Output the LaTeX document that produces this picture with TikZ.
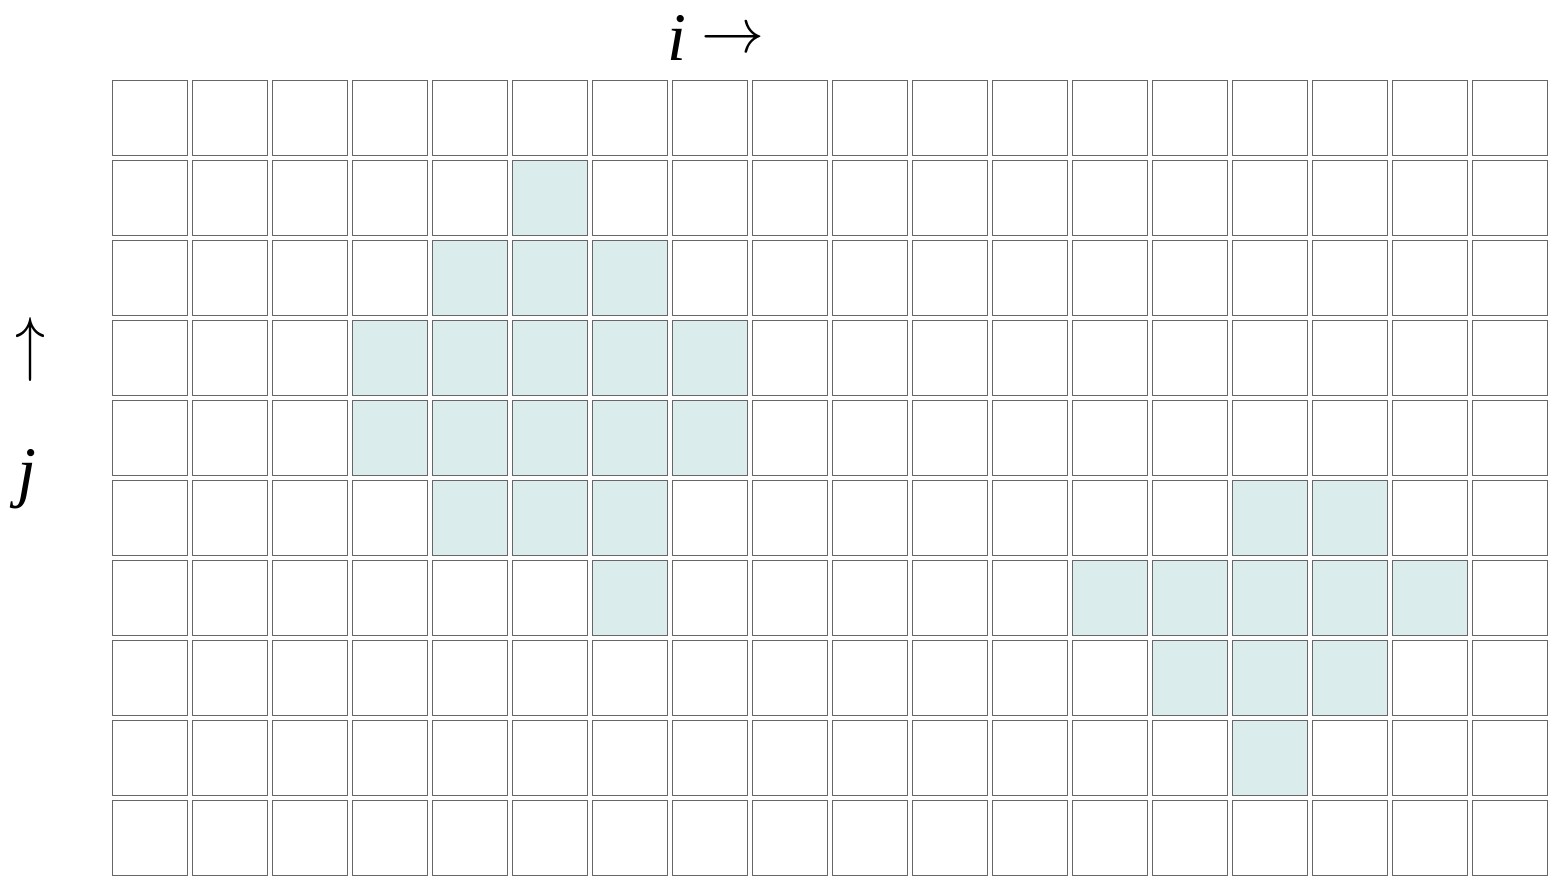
\documentclass[tikz,border=0pt]{standalone}
\usepackage{fontspec}
\usepackage{graphicx}
\setmainfont{Liberation Serif}
\begin{document}
\begin{tikzpicture}[x=1pt,y=-1pt,
  cell/.style={draw=black!60,line width=1.4pt,minimum size=75pt,inner sep=0pt,outer sep=0pt,fill=white},
  shaded/.style={fill=cyanfill},
  lbl/.style={inner sep=0pt,font=\fontsize{68}{76}\selectfont}]
\definecolor{cyanfill}{HTML}{DAECEC}
\useasboundingbox (0,0) rectangle (1552,876);
\fill[white] (0,0) rectangle (1552,876);
\foreach \r in {0,...,9}{
  \foreach \c in {0,...,17}{
    \node[cell] (c-\r-\c) at ({150+80*\c},{118+80*\r}) {};
  }
}
\foreach \r/\c in {1/5, 2/4,2/5,2/6, 3/3,3/4,3/5,3/6,3/7, 4/3,4/4,4/5,4/6,4/7, 5/4,5/5,5/6, 6/6,
  5/14,5/15, 6/12,6/13,6/14,6/15,6/16, 7/13,7/14,7/15, 8/14}{
  \node[cell,shaded] at (c-\r-\c) {};
}
\node[lbl,anchor=base] (ilbl) at (677,60) {\itshape i};
\node[inner sep=0pt] (rarr) at (733,41) {\scalebox{6.3}[6.3]{$\rightarrow$}};
\node[inner sep=0pt] (up) at (31,349) {\scalebox{6}[7.2]{$\uparrow$}};
\node[lbl,anchor=base] (jlbl) at (27,494) {\itshape j};
\end{tikzpicture}
\end{document}
